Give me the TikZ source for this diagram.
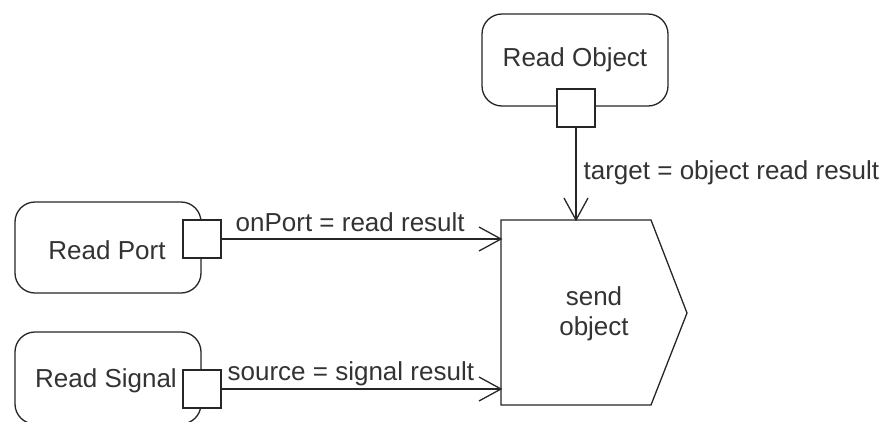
\documentclass[tikz,border=0pt]{standalone}
\usepackage{fontspec}
\setmainfont{Liberation Sans}
\begin{document}
\begin{tikzpicture}[x=1pt,y=-1pt,
  line width=1.3pt, draw=black!85,
  action/.style={draw=black!85, rounded corners=20pt, fill=white},
  pin/.style={draw=black!85, fill=white, minimum size=38pt, inner sep=0pt, outer sep=0pt},
  lbl/.style={font=\fontsize{26}{30}\selectfont, text=black!80, inner sep=0pt},
  flow/.style={draw=black!85, line width=1.3pt}]
\useasboundingbox (0,0) rectangle (884,421);
\begin{scope}
\clip (0,0) rectangle (884,421);
% actions
\draw[action] (482,14) rectangle (668,106);
\node[lbl] (ro) at (575,60) {Read Object};
\draw[action] (15,202) rectangle (201,293);
\node[lbl] (rp) at (107,250) {Read Port};
\draw[action] (15,332) rectangle (201,424);
\node[lbl] (rs) at (106,381) {Read Signal};
% pins
\node[pin] (pObj) at (576,108) {};
\node[pin] (pPort) at (202,239) {};
\node[pin] (pSig) at (202,389) {};
% send object
\draw[flow, fill=white] (501,220) -- (651,220) -- (687,313) -- (651,405) -- (501,405) -- cycle;
\node[lbl, align=center] (so) at (594,314) {send\\object};
\coordinate (tTop) at (576,220);
\coordinate (tPort) at (501,239);
\coordinate (tSig) at (501,389);
% connectors
\draw[flow] (pObj.south) -- (tTop);
\draw[flow] (tTop) ++(-12,-22) -- (tTop) -- ++(12,-22);
\draw[flow] (pPort.east) -- (tPort);
\draw[flow] (tPort) ++(-22,-12) -- (tPort) -- ++(-22,12);
\draw[flow] (pSig.east) -- (tSig);
\draw[flow] (tSig) ++(-22,-12) -- (tSig) -- ++(-22,12);
% labels
\node[lbl, anchor=base west] (l1) at (583,179) {target = object read result};
\node[lbl, anchor=base west] (l2) at (235,231) {onPort = read result};
\node[lbl, anchor=base west] (l3) at (227,380) {source = signal result};
\end{scope}
\end{tikzpicture}
\end{document}
